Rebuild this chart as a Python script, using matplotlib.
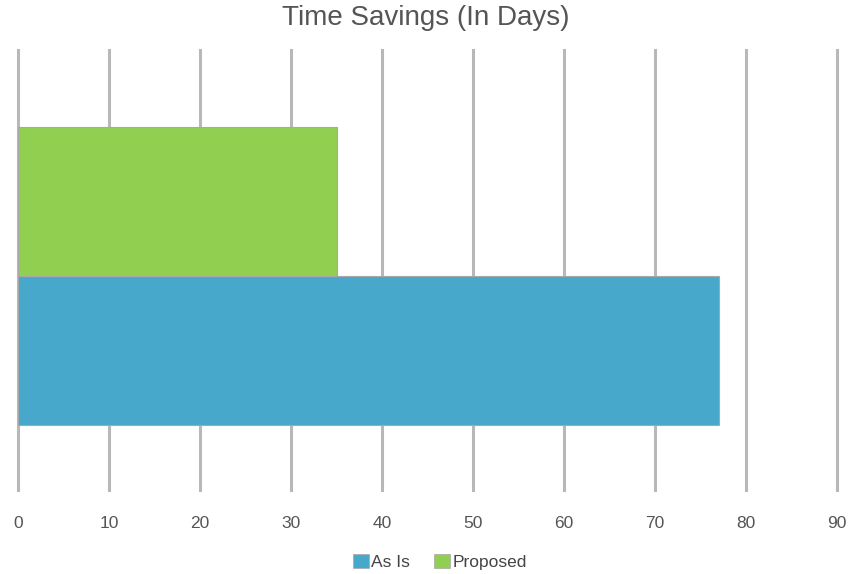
import matplotlib
matplotlib.use("Agg")
import matplotlib.pyplot as plt
from matplotlib.patches import Patch

plt.rcParams["font.family"] = ["Liberation Sans", "DejaVu Sans"]

series = ["As Is", "Proposed"]
values = [77, 35]
colors = ["#47A8CB", "#91CF50"]
x_ticks = [0, 10, 20, 30, 40, 50, 60, 70, 80, 90]

fig = plt.figure(figsize=(8.51, 5.74), dpi=100)
ax = fig.add_axes([18 / 851, 1 - 490 / 574, (837 - 18) / 851, 440 / 574])

bar_h = 0.339
offsets = [-bar_h / 2, bar_h / 2]
for name, val, col, off in zip(series, values, colors, offsets):
    ax.barh(off, val, height=bar_h, color=col, edgecolor="#a8a8a8", linewidth=0.8, zorder=3)

ax.set_xlim(0, 90)
ax.set_ylim(-(490 - 276) / 440, (276 - 50) / 440)
ax.set_xticks(x_ticks)
ax.set_yticks([])
for t in x_ticks:
    ax.axvline(t, color="#b8b8b8", linewidth=2.2, zorder=0, clip_on=False)
for s in ax.spines.values():
    s.set_visible(False)
ax.tick_params(axis="x", length=0, pad=19, labelsize=12.5, labelcolor="#555555")

fig.text(0.5, 1 - 18 / 574, "Time Savings (In Days)", ha="center", va="center",
         fontsize=20, color="#555555")

handles = [Patch(facecolor=c, edgecolor="#a8a8a8", linewidth=0.5) for c in colors]
fig.legend(handles, series, loc="center", bbox_to_anchor=(440 / 851, 1 - 562 / 574),
           ncol=2, frameon=False, fontsize=12.5, handlelength=0.9, handleheight=0.9,
           handletextpad=0.15, columnspacing=1.4, labelcolor="#444444")

fig.savefig("out.png", dpi=100)
